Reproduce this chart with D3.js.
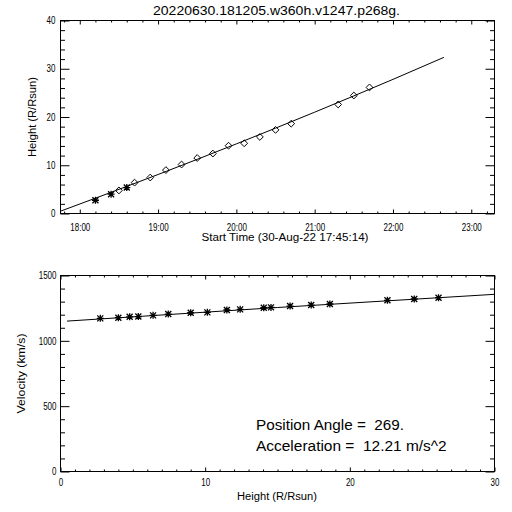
<!DOCTYPE html>
<html><head><meta charset="utf-8">
<script src="https://cdn.jsdelivr.net/npm/d3@7"></script>
<style>
body{margin:0;background:#fff}
svg{display:block}
text{font-family:"Liberation Sans",Arial,sans-serif;fill:#000;white-space:pre}
</style>
</head><body>
<script>
// ---------------- data ----------------
const titleText = "20220630.181205.w360h.v1247.p268g.";
const xTitleTop = "Start Time (30-Aug-22 17:45:14)";
const yTitleTop = "Height (R/Rsun)";
const xTitleBottom = "Height (R/Rsun)";
const yTitleBottom = "Velocity (km/s)";
const annotation = ["Position Angle =  269.", "Acceleration =  12.21 m/s^2"];

const obsTimes = ["18:12","18:24","18:30","18:36","18:42","18:54","19:06","19:18","19:30",
                  "19:42","19:54","20:06","20:18","20:30","20:42","21:18","21:30","21:42"];
const obsInstrument = ["C2","C2","C3","C2","C3","C3","C3","C3","C3",
                       "C3","C3","C3","C3","C3","C3","C3","C3","C3"];
const obsHeights = [2.75,4.0,4.78,5.38,6.4,7.45,9.0,10.15,11.5,
                    12.42,14.05,14.55,15.87,17.33,18.62,22.6,24.45,26.13];
const obsVelocities = [1172,1177,1184,1186,1195,1205,1215,1218,1236,
                       1241,1253,1256,1266,1274,1282,1310,1320,1330];

const fitTimes = ["17:45:14","19:00","20:00","21:00","22:00","22:39"];
const fitHeights = [0.48,8.08,14.43,21.0,27.8,32.36];
const velFitHeights = [0.45,15,30];
const velFitValues = [1151,1255,1356];

const timeDomain = ["17:45:14","23:17:48"];
const timeTickLabels = ["18:00","19:00","20:00","21:00","22:00","23:00"];
const heightTicks = [0,10,20,30,40];
const heightMinorStep = 2;
const velTicks = [0,500,1000,1500];
const velMinorStep = 100;
const hTicks = [0,10,20,30];
const hMinorStep = 1;

// ---------------- drawing ----------------
const W = 512, H = 512;
const svg = d3.select("body").append("svg").attr("width", W).attr("height", H);
svg.append("rect").attr("width", W).attr("height", H).attr("fill", "#fff");

const parseT = s => { const p = s.split(":").map(Number); return new Date(Date.UTC(2022, 7, 30, p[0], p[1], p[2] || 0)); };

const P1 = {l: 60.5, r: 494.5, t: 20.5, b: 213.5};
const P2 = {l: 60.5, r: 494.5, t: 275.5, b: 471.5};

const x1 = d3.scaleUtc().domain(timeDomain.map(parseT)).range([P1.l, P1.r]);
const y1 = d3.scaleLinear().domain([0, 40]).range([P1.b, P1.t]);
const x2 = d3.scaleLinear().domain([0, 30]).range([P2.l, P2.r]);
const y2 = d3.scaleLinear().domain([0, 1500]).range([P2.b, P2.t]);

const FS = 10;
function styleAxis(g) {
  g.select(".domain").remove();
  g.selectAll("line").attr("stroke", "#000").attr("stroke-width", 1);
  g.selectAll("text").attr("font-family", '"Liberation Sans",Arial,sans-serif').attr("font-size", FS).attr("fill", "#000");
}
function noLabels(g) { g.selectAll("text").remove(); }

function range(a, b, s) { const out = []; for (let v = a; v <= b + 1e-9; v += s) out.push(+v.toFixed(6)); return out; }

// ---- top panel ----
const g1 = svg.append("g");
g1.append("rect").attr("x", P1.l).attr("y", P1.t).attr("width", P1.r - P1.l).attr("height", P1.b - P1.t)
  .attr("fill", "none").attr("stroke", "#000");

const hourTicks = timeTickLabels.map(parseT);
const minorTimeTicks = x1.ticks(d3.utcMinute.every(12)).filter(d => d.getUTCMinutes() !== 0);

g1.append("g").attr("transform", `translate(0,${P1.b})`)
  .call(d3.axisBottom(x1).tickValues(hourTicks).tickFormat(d3.utcFormat("%H:%M")).tickSize(-4).tickPadding(10)).call(styleAxis);
g1.append("g").attr("transform", `translate(0,${P1.b})`)
  .call(d3.axisBottom(x1).tickValues(minorTimeTicks).tickSize(-2)).call(styleAxis).call(noLabels);
g1.append("g").attr("transform", `translate(0,${P1.t})`)
  .call(d3.axisTop(x1).tickValues(hourTicks).tickSize(-4)).call(styleAxis).call(noLabels);
g1.append("g").attr("transform", `translate(0,${P1.t})`)
  .call(d3.axisTop(x1).tickValues(minorTimeTicks).tickSize(-2)).call(styleAxis).call(noLabels);

const hMinor = range(0, 40, heightMinorStep).filter(v => !heightTicks.includes(v));
g1.append("g").attr("transform", `translate(${P1.l},0)`)
  .call(d3.axisLeft(y1).tickValues(heightTicks).tickFormat(d3.format("d")).tickSize(-9).tickPadding(5)).call(styleAxis);
g1.append("g").attr("transform", `translate(${P1.l},0)`)
  .call(d3.axisLeft(y1).tickValues(hMinor).tickSize(-4.5)).call(styleAxis).call(noLabels);
g1.append("g").attr("transform", `translate(${P1.r},0)`)
  .call(d3.axisRight(y1).tickValues(heightTicks).tickSize(-9)).call(styleAxis).call(noLabels);
g1.append("g").attr("transform", `translate(${P1.r},0)`)
  .call(d3.axisRight(y1).tickValues(hMinor).tickSize(-4.5)).call(styleAxis).call(noLabels);

// fit curve
const fitData = fitTimes.map((t, i) => [parseT(t), fitHeights[i]]);
g1.append("path").datum(fitData)
  .attr("d", d3.line().x(d => x1(d[0])).y(d => y1(d[1])).curve(d3.curveMonotoneX))
  .attr("fill", "none").attr("stroke", "#000").attr("stroke-width", 1);

const starPath = "M-3.5,0L3.5,0M0,-3.5L0,3.5M-3,-3L3,3M-3,3L3,-3";
const diamondPath = "M0,-3.4L3.4,0L0,3.4L-3.4,0Z";
const obs = obsTimes.map((t, i) => ({t: parseT(t), h: obsHeights[i], inst: obsInstrument[i], v: obsVelocities[i]}));
g1.selectAll("path.obs").data(obs).join("path").attr("class", "obs")
  .attr("transform", d => `translate(${x1(d.t)},${y1(d.h)})`)
  .attr("d", d => d.inst === "C2" ? starPath : diamondPath)
  .attr("fill", "none").attr("stroke", "#000").attr("stroke-width", d => d.inst === "C2" ? 1.3 : 1);

// ---- bottom panel ----
const g2 = svg.append("g");
g2.append("rect").attr("x", P2.l).attr("y", P2.t).attr("width", P2.r - P2.l).attr("height", P2.b - P2.t)
  .attr("fill", "none").attr("stroke", "#000");
const xMinor2 = range(0, 30, hMinorStep).filter(v => !hTicks.includes(v));
const yMinor2 = range(0, 1500, velMinorStep).filter(v => !velTicks.includes(v));

g2.append("g").attr("transform", `translate(0,${P2.b})`)
  .call(d3.axisBottom(x2).tickValues(hTicks).tickFormat(d3.format("d")).tickSize(-4).tickPadding(7.5)).call(styleAxis);
g2.append("g").attr("transform", `translate(0,${P2.b})`)
  .call(d3.axisBottom(x2).tickValues(xMinor2).tickSize(-2)).call(styleAxis).call(noLabels);
g2.append("g").attr("transform", `translate(0,${P2.t})`)
  .call(d3.axisTop(x2).tickValues(hTicks).tickSize(-4)).call(styleAxis).call(noLabels);
g2.append("g").attr("transform", `translate(0,${P2.t})`)
  .call(d3.axisTop(x2).tickValues(xMinor2).tickSize(-2)).call(styleAxis).call(noLabels);
g2.append("g").attr("transform", `translate(${P2.l},0)`)
  .call(d3.axisLeft(y2).tickValues(velTicks).tickFormat(d3.format("d")).tickSize(-9).tickPadding(4)).call(styleAxis);
g2.append("g").attr("transform", `translate(${P2.l},0)`)
  .call(d3.axisLeft(y2).tickValues(yMinor2).tickSize(-4.5)).call(styleAxis).call(noLabels);
g2.append("g").attr("transform", `translate(${P2.r},0)`)
  .call(d3.axisRight(y2).tickValues(velTicks).tickSize(-9)).call(styleAxis).call(noLabels);
g2.append("g").attr("transform", `translate(${P2.r},0)`)
  .call(d3.axisRight(y2).tickValues(yMinor2).tickSize(-4.5)).call(styleAxis).call(noLabels);

const velFit = velFitHeights.map((h, i) => [h, velFitValues[i]]);
g2.append("path").datum(velFit)
  .attr("d", d3.line().x(d => x2(d[0])).y(d => y2(d[1])))
  .attr("fill", "none").attr("stroke", "#000").attr("stroke-width", 1);
g2.selectAll("path.vobs").data(obs).join("path").attr("class", "vobs")
  .attr("transform", d => `translate(${x2(d.h)},${y2(d.v)})`)
  .attr("d", starPath).attr("fill", "none").attr("stroke", "#000").attr("stroke-width", 1.3);

// ---- texts ----
function txt(x, y, s, size, len, anchor, rot) {
  const t = svg.append("text").attr("x", x).attr("y", y).attr("font-size", size)
    .attr("text-anchor", anchor || "start").attr("xml:space", "preserve").text(s);
  if (len) t.attr("textLength", len).attr("lengthAdjust", "spacingAndGlyphs");
  if (rot) t.attr("transform", `rotate(${rot},${x},${y})`);
  return t;
}
txt(276.5, 15, titleText, 12, 247, "middle");
txt(285, 241, xTitleTop, 10, 167, "middle");
txt(35.5, 117, yTitleTop, 10, 80, "middle", -90);
txt(277, 499.5, xTitleBottom, 10, 80, "middle");
txt(25, 373.5, yTitleBottom, 10, 80, "middle", -90);
txt(256, 429.5, annotation[0], 14, 148, "start");
txt(256, 451, annotation[1], 14, 190.7, "start");

// narrow tick labels like the original font
svg.selectAll(".tick text").each(function() {
  const n = this.getComputedTextLength();
  d3.select(this).attr("textLength", n * 0.8).attr("lengthAdjust", "spacingAndGlyphs");
});
</script>
</body></html>
